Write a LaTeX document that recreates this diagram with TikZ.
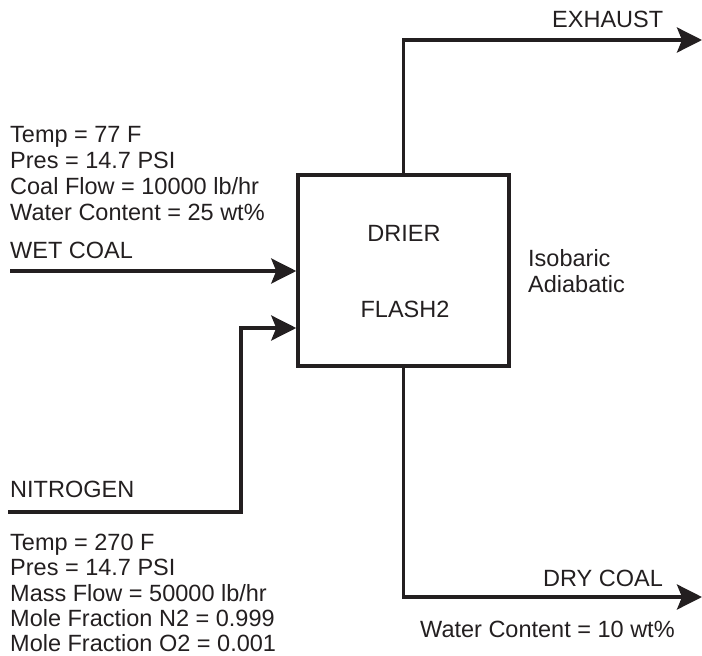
\documentclass[tikz,border=0pt]{standalone}
\usepackage{fontspec}
\setmainfont{Liberation Sans}
\usetikzlibrary{arrows.meta}
\definecolor{ink}{HTML}{231F20}
\begin{document}
\begin{tikzpicture}[x=1pt,y=-1pt,
  flow/.style={draw=ink,line width=3.5pt,-{Stealth[length=25pt,width=25pt,inset=5pt]}},
  lbl/.style={anchor=base west,inner sep=0pt,text=ink,font=\fontsize{23.5}{26}\selectfont},
  lblc/.style={anchor=base,inner sep=0pt,text=ink,font=\fontsize{23.5}{26}\selectfont},
  unit/.style={draw=ink,line width=3.5pt,minimum width=211pt,minimum height=191pt,inner sep=0pt}]
\useasboundingbox (0,0) rectangle (702,656);
% unit
\node[unit] (box) at (403.5,270.5) {};
\node[lblc] (drier) at (404,241) {DRIER};
\node[lblc] (flash) at (405,317) {FLASH2};
\node[lbl] (iso) at (528,266) {Isobaric};
\node[lbl] (adia) at (528,292) {Adiabatic};
% coordinates
\coordinate (exEnd) at (702,40);
\coordinate (dcEnd) at (702,597);
\coordinate (wcStart) at (10,271);
\coordinate (n2Start) at (8,512);
\coordinate (n2Bend) at (241,328);
% streams
\draw[flow] (box.north) |- (exEnd);
\draw[flow] (box.south) |- (dcEnd);
\draw[flow] (wcStart) -- (wcStart -| box.west);
\draw[flow] (n2Start) -| (n2Bend) -- (n2Bend -| box.west);
% labels
\node[lbl] (exh) at (552,27) {EXHAUST};
\node[lbl] (dry) at (543,586) {DRY COAL};
\node[lbl] (dryw) at (420,637) {Water Content = 10 wt\%};
\node[lbl] (wc1) at (10,142) {Temp = 77 F};
\node[lbl] (wc2) at (10,168) {Pres = 14.7 PSI};
\node[lbl] (wc3) at (10,194) {Coal Flow = 10000 lb/hr};
\node[lbl] (wc4) at (10,220) {Water Content = 25 wt\%};
\node[lbl] (wc) at (10,258) {WET COAL};
\node[lbl] (n2) at (10,497) {NITROGEN};
\node[lbl] (n21) at (10,550) {Temp = 270 F};
\node[lbl] (n22) at (10,575) {Pres = 14.7 PSI};
\node[lbl] (n23) at (10,601) {Mass Flow = 50000 lb/hr};
\node[lbl] (n24) at (10,626) {Mole Fraction N2 = 0.999};
\node[lbl] (n25) at (10,651) {Mole Fraction O2 = 0.001};
\end{tikzpicture}
\end{document}
